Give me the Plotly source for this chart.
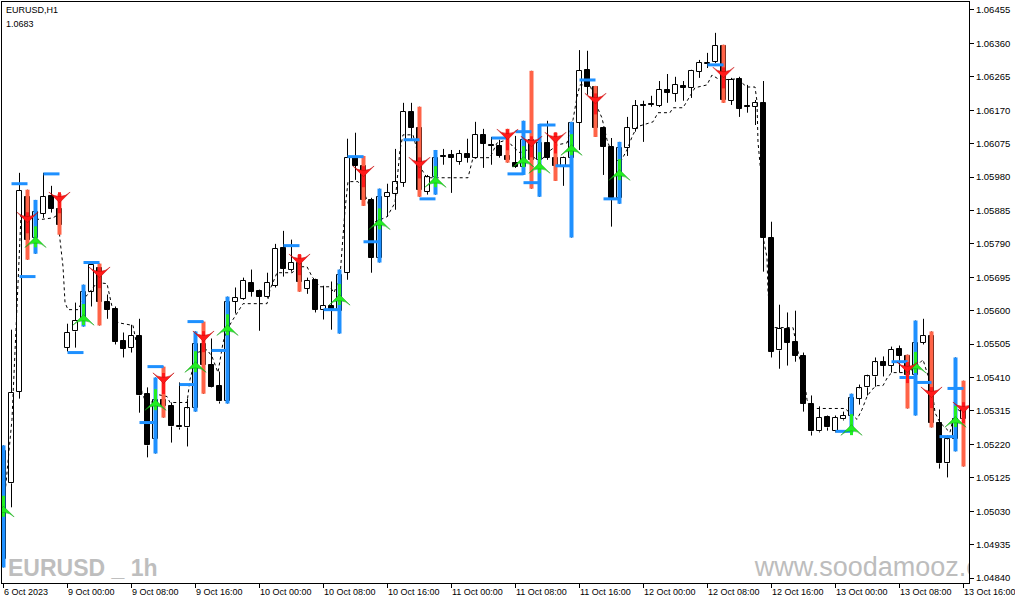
import plotly.graph_objects as go

# ---------------- data (EURUSD H1, 6 Oct 16:00 -> 13 Oct 16:00) ----------------
open_ = [1.04893, 1.05109, 1.05370, 1.05924, 1.05808, 1.05876, 1.05927, 1.05890,
         1.05495, 1.05541, 1.05575, 1.05654, 1.05722, 1.05626, 1.05606, 1.05515,
         1.05495, 1.05529, 1.05362, 1.05234, 1.05347, 1.05328, 1.05271, 1.05268,
         1.05322, 1.05504, 1.05447, 1.05387, 1.05342, 1.05626, 1.05634, 1.05680,
         1.05657, 1.05640, 1.05671, 1.05779, 1.05717, 1.05737, 1.05663, 1.05688,
         1.05603, 1.05614, 1.05600, 1.05708, 1.06035, 1.06012, 1.05915, 1.05751,
         1.05924, 1.05932, 1.05964, 1.06165, 1.06120, 1.05938, 1.05981, 1.06040,
         1.06043, 1.06023, 1.06046, 1.06035, 1.06100, 1.06072, 1.06069, 1.06040,
         1.06021, 1.06009, 1.06086, 1.06029, 1.06077, 1.06035, 1.06012, 1.06035,
         1.06134, 1.06285, 1.06236, 1.06120, 1.06066, 1.05921, 1.06063, 1.06117,
         1.06185, 1.06188, 1.06182, 1.06228, 1.06216, 1.06239, 1.06234, 1.06279,
         1.06302, 1.06307, 1.06353, 1.06197, 1.06259, 1.06182, 1.06180, 1.06191,
         1.05808, 1.05487, 1.05549, 1.05512, 1.05472, 1.05336, 1.05257, 1.05299,
         1.05257, 1.05291, 1.05302, 1.05350, 1.05382, 1.05413, 1.05453, 1.05444,
         1.05492, 1.05472, 1.05418, 1.05509, 1.05529, 1.05282, 1.05166, 1.05234,
         1.05291]
high = [1.05217, 1.05546, 1.05992, 1.05944, 1.05915, 1.05992, 1.05955, 1.05932,
        1.05563, 1.05623, 1.05674, 1.05737, 1.05734, 1.05646, 1.05612, 1.05538,
        1.05560, 1.05577, 1.05382, 1.05410, 1.05441, 1.05339, 1.05396, 1.05350,
        1.05541, 1.05569, 1.05521, 1.05427, 1.05640, 1.05666, 1.05694, 1.05717,
        1.05660, 1.05708, 1.05790, 1.05827, 1.05802, 1.05759, 1.05694, 1.05691,
        1.05671, 1.05683, 1.05717, 1.06089, 1.06106, 1.06040, 1.05921, 1.05947,
        1.05961, 1.06060, 1.06191, 1.06191, 1.06180, 1.05986, 1.06057, 1.06060,
        1.06057, 1.06057, 1.06089, 1.06137, 1.06117, 1.06094, 1.06086, 1.06117,
        1.06097, 1.06140, 1.06282, 1.06131, 1.06140, 1.06106, 1.06038, 1.06137,
        1.06341, 1.06339, 1.06239, 1.06123, 1.06091, 1.06080, 1.06151, 1.06199,
        1.06197, 1.06211, 1.06253, 1.06273, 1.06265, 1.06253, 1.06285, 1.06313,
        1.06333, 1.06390, 1.06356, 1.06262, 1.06265, 1.06242, 1.06199, 1.06253,
        1.05853, 1.05617, 1.05595, 1.05600, 1.05481, 1.05359, 1.05328, 1.05302,
        1.05302, 1.05313, 1.05364, 1.05390, 1.05418, 1.05467, 1.05470, 1.05498,
        1.05501, 1.05475, 1.05572, 1.05577, 1.05541, 1.05319, 1.05245, 1.05467,
        1.05401]
low = [1.04870, 1.05041, 1.05350, 1.05745, 1.05762, 1.05864, 1.05879, 1.05816,
       1.05484, 1.05495, 1.05555, 1.05612, 1.05558, 1.05577, 1.05504, 1.05467,
       1.05481, 1.05310, 1.05183, 1.05194, 1.05296, 1.05225, 1.05262, 1.05214,
       1.05313, 1.05364, 1.05382, 1.05336, 1.05336, 1.05592, 1.05631, 1.05640,
       1.05543, 1.05637, 1.05666, 1.05697, 1.05711, 1.05654, 1.05648, 1.05595,
       1.05575, 1.05546, 1.05535, 1.05688, 1.05972, 1.05898, 1.05708, 1.05737,
       1.05867, 1.05887, 1.05952, 1.06086, 1.05924, 1.05930, 1.05930, 1.06015,
       1.05935, 1.06015, 1.06021, 1.06032, 1.06006, 1.06015, 1.06035, 1.06021,
       1.06006, 1.05986, 1.05947, 1.05924, 1.06029, 1.05969, 1.05955, 1.05808,
       1.06057, 1.06214, 1.06094, 1.05986, 1.05839, 1.05904, 1.06040, 1.06109,
       1.06080, 1.06180, 1.06179, 1.06191, 1.06194, 1.06197, 1.06205, 1.06262,
       1.06290, 1.06304, 1.06191, 1.06185, 1.06151, 1.06163, 1.06128, 1.05711,
       1.05467, 1.05435, 1.05444, 1.05455, 1.05313, 1.05245, 1.05254, 1.05259,
       1.05254, 1.05288, 1.05254, 1.05333, 1.05359, 1.05384, 1.05413, 1.05424,
       1.05424, 1.05322, 1.05302, 1.05504, 1.05268, 1.05151, 1.05126, 1.05200,
       1.05157]
close = [1.05200, 1.05367, 1.05941, 1.05802, 1.05881, 1.05924, 1.05890, 1.05844,
         1.05538, 1.05572, 1.05654, 1.05731, 1.05626, 1.05603, 1.05512, 1.05492,
         1.05529, 1.05359, 1.05217, 1.05347, 1.05328, 1.05271, 1.05268, 1.05322,
         1.05504, 1.05447, 1.05384, 1.05342, 1.05626, 1.05637, 1.05685, 1.05654,
         1.05640, 1.05680, 1.05776, 1.05719, 1.05737, 1.05683, 1.05685, 1.05603,
         1.05614, 1.05600, 1.05702, 1.06035, 1.06012, 1.05915, 1.05751, 1.05924,
         1.05935, 1.05967, 1.06165, 1.06120, 1.05944, 1.05981, 1.06035, 1.06038,
         1.06035, 1.06046, 1.06035, 1.06100, 1.06074, 1.06069, 1.06040, 1.06029,
         1.06009, 1.06086, 1.06029, 1.06077, 1.06035, 1.06012, 1.06035, 1.06134,
         1.06282, 1.06236, 1.06120, 1.06066, 1.05921, 1.06063, 1.06120, 1.06182,
         1.06182, 1.06185, 1.06228, 1.06219, 1.06242, 1.06234, 1.06282, 1.06305,
         1.06305, 1.06353, 1.06199, 1.06256, 1.06174, 1.06180, 1.06191, 1.05808,
         1.05484, 1.05549, 1.05509, 1.05472, 1.05336, 1.05257, 1.05296, 1.05268,
         1.05296, 1.05302, 1.05353, 1.05379, 1.05413, 1.05453, 1.05444, 1.05489,
         1.05472, 1.05418, 1.05509, 1.05529, 1.05282, 1.05166, 1.05234, 1.05291,
         1.05319]

# indicator: signal bars (blue = buy, red = sell) and their arrows
buy_bars = [0, 4, 10, 19, 24, 28, 42, 47, 54, 65, 67, 71, 77, 106, 114, 119]
buy_arrow_price = [1.05044, 1.05810, 1.05589, 1.05347, 1.05455, 1.05560, 1.05646, 1.05861,
                   1.05981, 1.06038, 1.06021, 1.06072, 1.06001, 1.05276, 1.05453, 1.05299]
sell_bars = [3, 7, 12, 20, 25, 37, 45, 52, 63, 66, 69, 74, 90, 113, 116, 120]
sell_arrow_price = [1.05850, 1.05907, 1.05694, 1.05393, 1.05512, 1.05731, 1.05981, 1.06006,
                    1.06086, 1.06066, 1.06077, 1.06188, 1.06262, 1.05424, 1.05353, 1.05310]

# short blue levels (start bar -> start bar + 2)
level_start = [1, 2, 5, 8, 10, 17, 18, 22, 23, 26, 35, 40, 43, 45, 50, 52, 61, 63, 64, 65,
               67, 69, 72, 75, 88, 104, 111, 112, 114, 117, 118]
level_price = [1.05961, 1.05697, 1.05989, 1.05481, 1.05737, 1.05282, 1.05441, 1.05390,
               1.05569, 1.05487, 1.05785, 1.05603, 1.06038, 1.05796, 1.06086, 1.05918,
               1.06091, 1.05989, 1.06109, 1.05964, 1.06128, 1.06012, 1.06256, 1.05918,
               1.06299, 1.05257, 1.05455, 1.05410, 1.05396, 1.05242, 1.05379]

# dotted trailing line (bar position, price)
trail_x = [0.06, 1.06, 1.56, 1.94, 2.19, 2.94, 4.56, 6.19, 6.81, 7.06, 7.44, 7.69, 8.06,
           9.31, 9.94, 10.81, 11.69, 12.94, 13.56, 14.31, 16.19, 16.69, 17.31, 18.06,
           19.19, 20.44, 20.81, 22.94, 23.31, 24.19, 25.44, 26.06, 26.81, 27.44, 27.94,
           28.69, 29.94, 32.94, 33.31, 34.19, 36.06, 37.06, 37.94, 38.56, 39.56, 40.81,
           41.31, 42.06, 42.44, 42.69, 43.06, 44.31, 44.94, 45.56, 46.19, 47.94, 48.94,
           49.31, 49.56, 49.94, 51.19, 51.69, 52.06, 52.94, 58.06, 58.69, 60.81, 61.69,
           62.94, 63.69, 64.56, 65.44, 66.19, 67.06, 67.94, 69.31, 70.44, 71.19, 71.69,
           72.06, 73.31, 74.19, 74.81, 75.44, 76.19, 77.06, 77.94, 78.56, 79.19, 81.19,
           81.81, 83.31, 83.69, 84.94, 85.81, 86.44, 87.94, 88.56, 89.56, 91.69, 92.94,
           93.94, 94.19, 94.31, 94.69, 95.06, 95.44, 95.56, 96.06, 98.69, 99.19, 99.94,
           100.44, 100.81, 105.19, 106.69, 107.31, 107.94, 108.56, 109.19, 109.94,
           110.56, 111.06, 112.94, 113.94, 114.94, 115.44, 115.81, 116.19, 116.44,
           117.06, 118.31, 118.69, 119.31, 120.44]
trail_y = [1.05049, 1.05291, 1.05546, 1.05773, 1.05873, 1.05867, 1.05859, 1.05864, 1.05873,
           1.05802, 1.05725, 1.05623, 1.05603, 1.05603, 1.05631, 1.05654, 1.05680, 1.05677,
           1.05612, 1.05566, 1.05558, 1.05498, 1.05367, 1.05325, 1.05362, 1.05356, 1.05339,
           1.05339, 1.05404, 1.05481, 1.05489, 1.05470, 1.05424, 1.05509, 1.05546, 1.05575,
           1.05620, 1.05620, 1.05660, 1.05708, 1.05708, 1.05725, 1.05725, 1.05697, 1.05668,
           1.05668, 1.05651, 1.05697, 1.05830, 1.05887, 1.05967, 1.05967, 1.05944, 1.05907,
           1.05850, 1.05867, 1.05907, 1.05992, 1.06057, 1.06100, 1.06100, 1.06057, 1.06009,
           1.05978, 1.05978, 1.06035, 1.06035, 1.06077, 1.06086, 1.06066, 1.06049, 1.06057,
           1.06038, 1.06023, 1.06049, 1.06072, 1.06077, 1.06143, 1.06208, 1.06242, 1.06242,
           1.06180, 1.06148, 1.06086, 1.06038, 1.06021, 1.06057, 1.06094, 1.06123, 1.06137,
           1.06163, 1.06163, 1.06177, 1.06177, 1.06208, 1.06234, 1.06242, 1.06270, 1.06256,
           1.06259, 1.06236, 1.06236, 1.06194, 1.06080, 1.05986, 1.05796, 1.05751, 1.05654,
           1.05552, 1.05552, 1.05495, 1.05427, 1.05347, 1.05322, 1.05322, 1.05291, 1.05319,
           1.05356, 1.05376, 1.05387, 1.05387, 1.05413, 1.05424, 1.05424, 1.05438, 1.05461,
           1.05424, 1.05399, 1.05356, 1.05310, 1.05282, 1.05254, 1.05291, 1.05319, 1.05299]

time_tick_bars = [0, 8, 16, 24, 32, 40, 48, 56, 64, 72, 80, 88, 96, 104, 112, 120]
time_tick_labels = ["6 Oct 2023", "9 Oct 00:00", "9 Oct 08:00", "9 Oct 16:00",
                    "10 Oct 00:00", "10 Oct 08:00", "10 Oct 16:00", "11 Oct 00:00",
                    "11 Oct 08:00", "11 Oct 16:00", "12 Oct 00:00", "12 Oct 08:00",
                    "12 Oct 16:00", "13 Oct 00:00", "13 Oct 08:00", "13 Oct 16:00"]
price_ticks = [1.04840, 1.04935, 1.05030, 1.05125, 1.05220, 1.05315, 1.05410, 1.05505,
               1.05600, 1.05695, 1.05790, 1.05885, 1.05980, 1.06075, 1.06170, 1.06265,
               1.06360, 1.06455]

# ---------------- figure ----------------
FONT = "Liberation Sans"
n = len(open_)
xs = list(range(n))
body_base = [min(o, c) for o, c in zip(open_, close)]
body_h = [abs(c - o) for o, c in zip(open_, close)]
body_col = ["white" if c >= o else "black" for o, c in zip(open_, close)]

fig = go.Figure()

fig.add_trace(go.Bar(x=xs, y=body_h, base=body_base, width=0.6,
                     marker=dict(color=body_col, line=dict(color="black", width=1)),
                     hoverinfo="skip", showlegend=False))

wx, wy = [], []
for i in xs:
    top, bot = max(open_[i], close[i]), min(open_[i], close[i])
    wx += [i, i, None, i, i, None]
    wy += [high[i], top, None, bot, low[i], None]
fig.add_trace(go.Scatter(x=wx, y=wy, mode="lines", line=dict(color="black", width=1),
                         hoverinfo="skip", showlegend=False))

# dotted trailing line
fig.add_trace(go.Scatter(x=trail_x, y=trail_y, mode="lines",
                         line=dict(color="black", width=1, dash="3px,3px"),
                         hoverinfo="skip", showlegend=False))

# signal bars
for bars, col in ((buy_bars, "#1E90FF"), (sell_bars, "#FF6347")):
    sx, sy = [], []
    for i in bars:
        sx += [i, i, None]
        sy += [high[i], low[i], None]
    fig.add_trace(go.Scatter(x=sx, y=sy, mode="lines", line=dict(color=col, width=4),
                             hoverinfo="skip", showlegend=False))

# blue levels
lx, ly = [], []
for s, p in zip(level_start, level_price):
    lx += [s, s + 2, None]
    ly += [p, p, None]
fig.add_trace(go.Scatter(x=lx, y=ly, mode="lines", line=dict(color="#1E90FF", width=3),
                         hoverinfo="skip", showlegend=False))

# arrows
for bars, prices, col, edge, ang in ((buy_bars, buy_arrow_price, "#22EE22", "#0A9A0A", 0),
                                     (sell_bars, sell_arrow_price, "#FF1A1A", "#C00000", 180)):
    fig.add_trace(go.Scatter(x=bars, y=prices, mode="markers",
                             marker=dict(symbol="line-ns", size=15, color=col,
                                         line=dict(color=col, width=3)),
                             hoverinfo="skip", showlegend=False))
    fig.add_trace(go.Scatter(x=bars, y=prices, mode="markers",
                             marker=dict(symbol="arrow-wide", size=15, angle=ang, color=col,
                                         line=dict(width=0.5, color=edge)),
                             hoverinfo="skip", showlegend=False))

# watermark site text (clipped by the plot area, as in the original)
fig.add_trace(go.Scatter(x=[93.9], y=[1.04866], mode="text", text=["www.soodamooz.com"],
                         textposition="middle right", cliponaxis=True,
                         textfont=dict(family=FONT, size=27, color="#BDBDBD"),
                         hoverinfo="skip", showlegend=False))

annotations = []
for b, lab in zip(time_tick_bars, time_tick_labels):
    annotations.append(dict(x=b, xref="x", y=0, yref="paper", yanchor="top",
                            xanchor="left", xshift=-2, yshift=-2, showarrow=False,
                            text=lab, font=dict(family=FONT, size=9, color="black")))
annotations.append(dict(x=0, xref="paper", y=1, yref="paper", xanchor="left",
                        yanchor="top", xshift=2, yshift=-1, showarrow=False,
                        text="EURUSD,H1", font=dict(family=FONT, size=9, color="black")))
annotations.append(dict(x=0, xref="paper", y=1, yref="paper", xanchor="left",
                        yanchor="top", xshift=2, yshift=-15, showarrow=False,
                        text="1.0683", font=dict(family=FONT, size=9, color="black")))
annotations.append(dict(x=0, xref="paper", y=0, yref="paper", xanchor="left",
                        yanchor="bottom", xshift=4, yshift=0, showarrow=False,
                        text="<b>EURUSD _ 1h</b>",
                        font=dict(family=FONT, size=23, color="#BEBEBE")))

fig.update_layout(
    width=1015, height=605,
    margin=dict(l=2, r=46, t=2, b=22),
    paper_bgcolor="white", plot_bgcolor="white",
    showlegend=False, bargap=0,
    annotations=annotations,
    xaxis=dict(range=[-0.1875, 120.6875], showgrid=False, zeroline=False,
               showline=True, mirror=True, linecolor="black", linewidth=1,
               tickmode="array", tickvals=time_tick_bars, ticks="outside", ticklen=4,
               tickcolor="black", showticklabels=False, fixedrange=True),
    yaxis=dict(range=[1.048258, 1.064777], side="right", showgrid=False, zeroline=False,
               showline=True, mirror=True, linecolor="black", linewidth=1,
               tickmode="array", tickvals=price_ticks,
               ticktext=["%.5f" % v for v in price_ticks],
               ticks="outside", ticklen=4, tickcolor="black",
               tickfont=dict(family=FONT, size=9.5, color="black"), fixedrange=True),
)

# no mode bar; remove the page's default margin so the figure sits at the window corner
fig.write_html("out.html", config={"displayModeBar": False},
               post_script="document.body.style.margin='0px';")
